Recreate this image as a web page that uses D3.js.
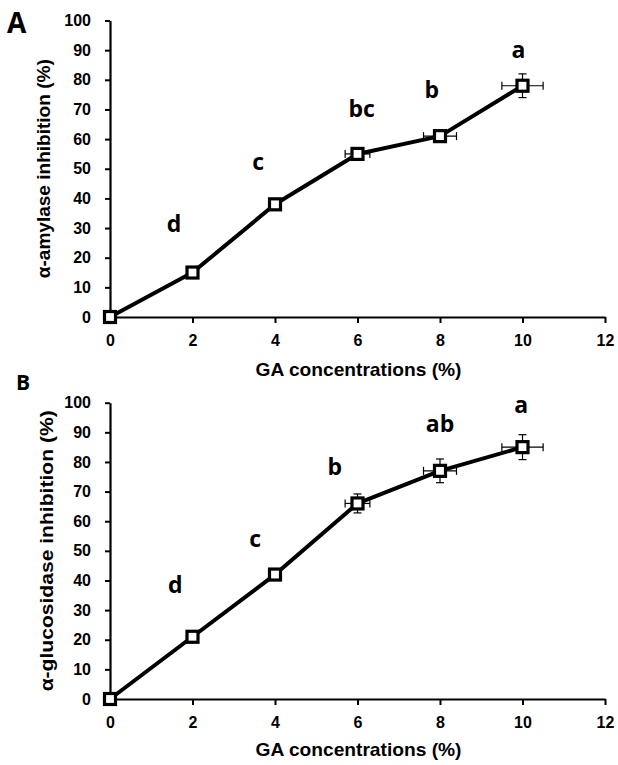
<!DOCTYPE html>
<html>
<head>
<meta charset="utf-8">
<script src="https://cdn.jsdelivr.net/npm/d3@7"></script>
<style>
  html, body { margin: 0; padding: 0; background: #fff; }
  svg { display: block; }
  .axis-text { font-family: "Liberation Sans", Arial, sans-serif; font-weight: bold; fill: #000; }
  .letter { font-family: "Open Sans", sans-serif; font-weight: bold; fill: #000; }
</style>
</head>
<body>
<svg id="chart" width="618" height="765"></svg>
<script>
// GA concentration (%) on the x axis, shared by both panels
const concentrations = [0, 2, 4, 6, 8, 10];
const xTicks = [0, 2, 4, 6, 8, 10, 12];
const yTicks = [0, 10, 20, 30, 40, 50, 60, 70, 80, 90, 100];

// Panel A: alpha-amylase inhibition (%)
const amylase = [0, 15, 38, 55, 61, 78];
const amylaseYErr = [0, 0, 0, 1.5, 1.5, 4];
const amylaseXErr = [0, 0, 0, 0.3, 0.4, 0.5];
const amylaseLetters = ["d", "c", "bc", "b", "a"];
const amylaseLetterX = [1.55, 3.59, 6.1, 7.8, 9.9];
const amylaseLetterY = [28.6, 49.5, 67.3, 73.7, 87.5];

// Panel B: alpha-glucosidase inhibition (%)
const glucosidase = [0, 21, 42, 66, 77, 85];
const glucosidaseYErr = [0, 0, 0, 3.2, 4, 4.2];
const glucosidaseXErr = [0, 0, 0, 0.3, 0.4, 0.5];
const glucosidaseLetters = ["d", "c", "b", "ab", "a"];
const glucosidaseLetterX = [1.58, 3.52, 5.45, 8.0, 9.97];
const glucosidaseLetterY = [35.8, 51.3, 75.6, 90.1, 96.5];

const svg = d3.select("#chart");
const x = d3.scaleLinear().domain([0, 12]).range([110, 605]);

function drawPanel(opts) {
  const y = d3.scaleLinear().domain([0, 100]).range([opts.bottom, opts.top]);
  const g = svg.append("g");

  // y axis
  const yAxisGen = d3.axisLeft(y).tickValues(yTicks).tickSizeInner(5).tickSizeOuter(0).tickPadding(14);
  const yAxis = g.append("g")
    .attr("transform", `translate(${x(0)},0)`)
    .call(yAxisGen);
  // x axis
  const xAxisGen = d3.axisBottom(x).tickValues(xTicks).tickSizeInner(6).tickSizeOuter(0).tickPadding(12);
  const xAxis = g.append("g")
    .attr("transform", `translate(0,${y(0)})`)
    .call(xAxisGen);

  [yAxis, xAxis].forEach(ax => {
    ax.attr("font-family", "Liberation Sans, Arial, sans-serif")
      .attr("font-size", 16)
      .attr("font-weight", "bold");
    ax.select(".domain").attr("stroke", "#000").attr("stroke-width", 2.2);
    ax.selectAll(".tick line").attr("stroke", "#000").attr("stroke-width", 2);
    ax.selectAll(".tick text")
      .classed("axis-text", true)
      .attr("fill", "#000")
      .attr("font-size", 16);
  });

  // axis titles
  g.append("text")
    .attr("class", "axis-text")
    .attr("x", (x(0) + x(12)) / 2 + 1)
    .attr("y", y(0) + opts.xTitleOffset)
    .attr("text-anchor", "middle")
    .attr("font-size", 19)
    .attr("textLength", 206)
    .attr("lengthAdjust", "spacingAndGlyphs")
    .text("GA concentrations (%)");

  g.append("text")
    .attr("class", "axis-text")
    .attr("transform", `translate(${opts.yTitleX},${(y(0) + y(100)) / 2}) rotate(-90)`)
    .attr("text-anchor", "middle")
    .attr("font-size", opts.yTitleSize)
    .attr("textLength", opts.yTitleLength)
    .attr("lengthAdjust", "spacingAndGlyphs")
    .text(opts.yTitle);

  // panel letter
  g.append("text")
    .attr("class", "letter")
    .attr("x", opts.panelX)
    .attr("y", opts.panelY)
    .attr("font-size", opts.panelSize)
    .text(opts.panel);

  const pts = concentrations.map((c, i) => ({
    x: c, y: opts.values[i], ex: opts.xErr[i], ey: opts.yErr[i]
  }));

  // connecting line
  g.append("path")
    .datum(pts)
    .attr("fill", "none")
    .attr("stroke", "#000")
    .attr("stroke-width", 4)
    .attr("stroke-linejoin", "round")
    .attr("d", d3.line().x(d => x(d.x)).y(d => y(d.y)));

  // error bars
  const cap = 4;
  const eb = g.append("g").attr("stroke", "#000").attr("stroke-width", 1.2);
  pts.filter(d => d.ey > 0).forEach(d => {
    eb.append("line").attr("x1", x(d.x)).attr("x2", x(d.x))
      .attr("y1", y(d.y - d.ey)).attr("y2", y(d.y + d.ey));
    eb.append("line").attr("x1", x(d.x) - cap).attr("x2", x(d.x) + cap)
      .attr("y1", y(d.y + d.ey)).attr("y2", y(d.y + d.ey));
    eb.append("line").attr("x1", x(d.x) - cap).attr("x2", x(d.x) + cap)
      .attr("y1", y(d.y - d.ey)).attr("y2", y(d.y - d.ey));
  });
  pts.filter(d => d.ex > 0).forEach(d => {
    eb.append("line").attr("x1", x(d.x - d.ex)).attr("x2", x(d.x + d.ex))
      .attr("y1", y(d.y)).attr("y2", y(d.y));
    eb.append("line").attr("x1", x(d.x - d.ex)).attr("x2", x(d.x - d.ex))
      .attr("y1", y(d.y) - cap).attr("y2", y(d.y) + cap);
    eb.append("line").attr("x1", x(d.x + d.ex)).attr("x2", x(d.x + d.ex))
      .attr("y1", y(d.y) - cap).attr("y2", y(d.y) + cap);
  });

  // square markers
  const s = 11;
  g.append("g").selectAll("rect")
    .data(pts)
    .join("rect")
    .attr("x", d => x(d.x) - s / 2)
    .attr("y", d => y(d.y) - s / 2)
    .attr("width", s)
    .attr("height", s)
    .attr("fill", "#fff")
    .attr("stroke", "#000")
    .attr("stroke-width", 3.2);

  // significance letters
  g.append("g").selectAll("text")
    .data(opts.letters)
    .join("text")
    .attr("class", "letter")
    .attr("x", (d, i) => x(opts.letterX[i]))
    .attr("y", (d, i) => y(opts.letterY[i]))
    .attr("text-anchor", "middle")
    .attr("font-size", 23)
    .text(d => d);
}

drawPanel({
  top: 20.5, bottom: 317,
  values: amylase, yErr: amylaseYErr, xErr: amylaseXErr,
  letters: amylaseLetters, letterX: amylaseLetterX, letterY: amylaseLetterY,
  yTitle: "α-amylase inhibition (%)", yTitleX: 50, yTitleSize: 18, yTitleLength: 219,
  xTitleOffset: 59,
  panel: "A", panelX: 7, panelY: 33, panelSize: 28
});

drawPanel({
  top: 402.7, bottom: 699,
  values: glucosidase, yErr: glucosidaseYErr, xErr: glucosidaseXErr,
  letters: glucosidaseLetters, letterX: glucosidaseLetterX, letterY: glucosidaseLetterY,
  yTitle: "α-glucosidase inhibition (%)", yTitleX: 53, yTitleSize: 19, yTitleLength: 281,
  xTitleOffset: 57,
  panel: "B", panelX: 16, panelY: 390, panelSize: 21
});
</script>
</body>
</html>
